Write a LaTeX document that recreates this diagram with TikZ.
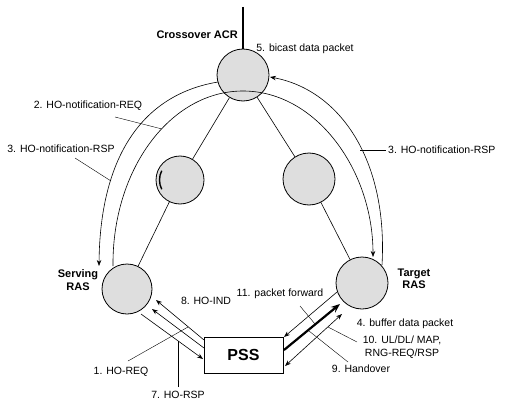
\documentclass[tikz,border=0pt]{standalone}
\usepackage{fontspec}
\setmainfont{Liberation Sans}
\usetikzlibrary{arrows.meta}
\begin{document}
\begin{tikzpicture}[x=1pt,y=-1pt,
  ras/.style={circle,draw,line width=0.8pt,fill=black!13,minimum size=52pt,inner sep=0pt},
  lbl/.style={font=\fontsize{10.5}{13}\selectfont,inner sep=0pt},
  blbl/.style={font=\fontsize{11}{12.5}\selectfont\bfseries,align=center,inner sep=0pt},
  link/.style={line width=0.6pt},
  arr/.style={line width=0.6pt,-{Stealth[length=6pt,width=4.5pt]}},
  darr/.style={line width=0.6pt,{Stealth[length=6pt,width=4.5pt]}-{Stealth[length=6pt,width=4.5pt]}},
  thickarr/.style={line width=2.2pt,-{Stealth[length=9pt,width=7pt]}},
  lead/.style={line width=0.4pt}]
\useasboundingbox (0,0) rectangle (513,401);
\clip (0,0) rectangle (513,401);

% nodes
\node[ras] (acr) at (243,75) {};
\node[ras,minimum size=48pt] (ml) at (180,180) {};
\node[ras] (mr) at (309,179) {};
\node[ras,minimum size=50pt] (srv) at (127,289) {};
\node[ras] (tgt) at (362,283) {};
\node[draw,line width=0.8pt,minimum width=79pt,minimum height=36pt,inner sep=0pt] (pss) at (243.5,355) {\fontsize{16}{18}\selectfont\bfseries PSS};

% crescent artefact on middle-left node
\draw[line width=1.4pt] (ml.center) ++(153:20.5) arc[start angle=153,end angle=207,radius=20.5];

% top feed
\coordinate (feed) at (243,7);
\draw[line width=1.3pt] (feed) -- (acr.north);

% links
\draw[link] (acr) -- (ml);
\draw[link] (ml) -- (srv);
\draw[link] (acr) -- (mr);
\draw[link] (mr) -- (tgt);

% arcs
\coordinate (lo1) at (218,82);
\coordinate (lo2) at (99,266);
\draw[arr] (lo1) .. controls (140,95) and (100,160) .. (lo2);
\coordinate (in1) at (113,266);
\coordinate (intop) at (243,91);
\coordinate (in2) at (373,257);
\draw[arr] (in1) .. controls (112,170) and (170,91) .. (intop) .. controls (316,91) and (373,170) .. (in2);
\coordinate (ro1) at (382,265);
\coordinate (ro2) at (270,77);
\draw[arr] (ro1) .. controls (388,160) and (340,90) .. (ro2);

% serving <-> PSS
\coordinate (l1a) at (204,340); \coordinate (l1b) at (156,300);
\coordinate (l2a) at (204,348); \coordinate (l2b) at (152,309);
\coordinate (l3a) at (141,314); \coordinate (l3b) at (203,359);
\draw[arr] (l1a) -- (l1b);
\draw[arr] (l2a) -- (l2b);
\draw[arr] (l3a) -- (l3b);

% target <-> PSS
\coordinate (t1a) at (337,292); \coordinate (t1b) at (284,337);
\coordinate (t2a) at (284,350); \coordinate (t2b) at (340,304);
\coordinate (t3a) at (342,314); \coordinate (t3b) at (285,366);
\draw[arr] (t1a) -- (t1b);
\draw[thickarr] (t2a) -- (t2b);
\draw[darr] (t3a) -- (t3b);

% labels
\node[blbl,anchor=east] (acrl) at (238,34.5) {Crossover ACR};
\node[lbl] (bic) at (305,49) {5. bicast data packet};
\node[lbl] (req) at (88,106) {2. HO-notification-REQ};
\node[lbl] (rspl) at (61,149) {3. HO-notification-RSP};
\node[lbl,anchor=west] (rspr) at (388,150) {3. HO-notification-RSP};
\node[blbl] (srvl) at (78,280) {Serving\\RAS};
\node[blbl] (tgtl) at (414,279) {Target\\RAS};
\node[lbl] (ind) at (206,301) {8. HO-IND};
\node[lbl] (fwd) at (280,294) {11. packet forward};
\node[lbl] (buf) at (405,324) {4. buffer data packet};
\node[lbl,align=center] (map) at (402,347) {10. UL/DL/ MAP,\\RNG-REQ/RSP};
\node[lbl] (hov) at (361,369) {9. Handover};
\node[lbl] (hreq) at (121,372) {1. HO-REQ};
\node[lbl] (hrsp) at (178,395) {7. HO-RSP};

% leaders
\coordinate (a1) at (115,117); \coordinate (a2) at (162,129);
\draw[lead] (a1) -- (a2);
\coordinate (b1) at (75,158); \coordinate (b2) at (111,181);
\draw[lead] (b1) -- (b2);
\coordinate (c1) at (360,150); \coordinate (c2) at (386,150);
\draw[lead] (c1) -- (c2);
\coordinate (d1) at (128,361); \coordinate (d2) at (188,327);
\draw[lead] (d1) -- (d2);
\coordinate (e1) at (178,387); \coordinate (e2) at (178,341);
\draw[lead] (e1) -- (e2);
\coordinate (f1) at (300,306); \coordinate (f2) at (315,324);
\draw[lead] (f1) -- (f2);
\coordinate (g1) at (357,342); \coordinate (g2) at (328,327);
\draw[lead] (g1) -- (g2);
\coordinate (h1) at (348,362); \coordinate (h2) at (309,331);
\draw[lead] (h1) -- (h2);
\end{tikzpicture}
\end{document}
